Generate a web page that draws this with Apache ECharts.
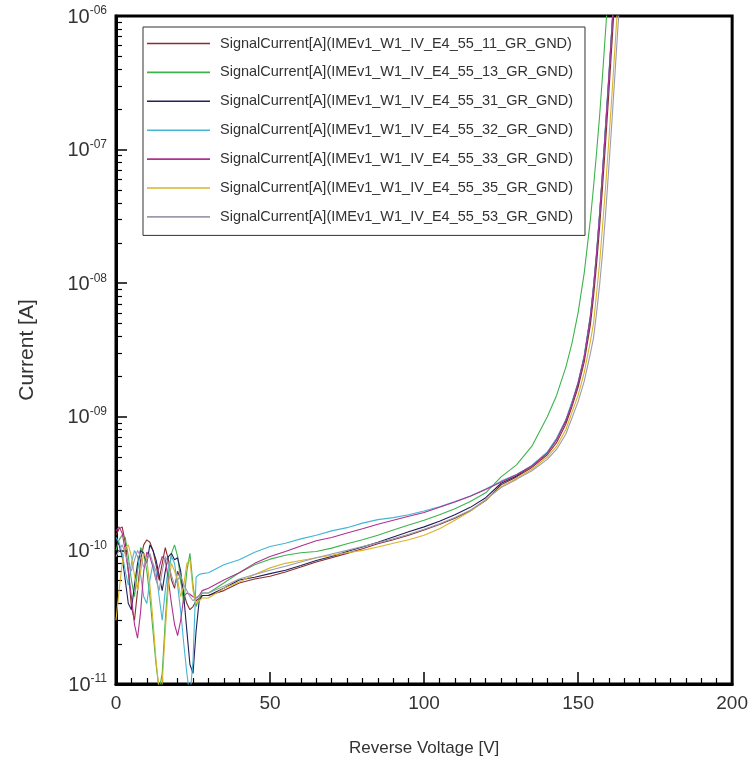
<!DOCTYPE html>
<html><head><meta charset="utf-8">
<script src="https://cdn.jsdelivr.net/npm/echarts@6/dist/echarts.min.js"></script>
<style>html,body{margin:0;padding:0;background:#fff}#c{width:751px;height:769px}</style>
</head><body><div id="c"></div>
<script>
// Reverse voltage grid [V]
const voltage = [
  0,1,2,3,4,5,6,7,8,9,10,11,12,13,14,15,16,17,18,19,20,21,22,23,24,25,26,27,28,
  30,35,40,45,50,55,60,65,70,75,80,85,90,95,100,105,110,115,120,
  125,130,135,140,143,146,148,150,152,154,155,156,157,158,159,160,161,162,163,164,165
];
// Currents in pA
const I_11 = [
  130,145,150,115,70,38,30,50,85,110,120,115,100,78,60,80,105,85,60,52,70,60,48,40,36,38,42,44,46,
  46,50,57,61,64,69,75,82,88,95,103,112,120,130,142,156,174,198,236,
  310,355,418,520,640,880,1190,1660,2580,4900,7900,13900,26600,55000,120000,270000,630000,1.5e6,3.4e6,8e6,1.6e7
];
const I_13 = [
  100,120,130,125,90,60,45,70,105,95,70,45,25,14,9,12,30,65,95,110,90,60,40,70,95,55,38,44,48,
  48,57,68,78,86,92,96,98,104,112,120,130,142,155,168,185,205,232,270,
  355,437,603,1000,1445,2344,3548,6026,12000,30200,52500,95500,182000,380000,832000,1.78e6,4e6,8e6,1.6e7,3e7,6e7
];
const I_31 = [
  120,110,90,60,40,36,55,80,100,95,80,110,100,85,65,50,70,90,95,85,88,70,45,25,14,12,25,42,46,
  46,52,60,63,67,71,77,84,90,98,106,115,126,138,150,165,185,210,248,
  318,360,430,540,680,925,1270,1760,2850,5550,9400,16400,33500,70000,160000,350000,840000,2.0e6,4.5e6,1e7,2e7
];
const I_32 = [
  125,115,95,70,55,80,100,90,65,45,40,60,80,70,45,30,50,75,90,80,55,35,20,12,8,15,63,66,67,
  68,78,85,97,107,113,122,130,140,148,160,170,176,185,197,212,232,255,288,
  330,370,432,545,690,950,1290,1820,2900,5800,9600,17200,34000,73000,165000,370000,860000,2.1e6,4.6e6,1e7,2e7
];
const I_33 = [
  140,150,135,100,70,45,28,22,35,70,97,90,75,60,75,90,85,60,40,28,23,30,45,48,47,45,44,46,50,
  52,60,68,80,90,98,108,118,125,135,145,157,168,180,192,210,230,254,286,
  325,368,428,535,670,940,1250,1800,2780,5700,9200,16900,32500,72000,155000,360000,820000,1.95e6,4.4e6,1e7,2e7
];
const I_35 = [
  30,50,80,105,110,90,65,50,70,95,85,55,30,15,9,10,25,55,80,70,60,45,55,80,85,50,40,42,44,
  44,52,58,66,74,80,84,88,92,96,100,106,113,120,130,145,168,196,238,
  300,345,405,500,600,800,1080,1450,2150,3700,5000,8400,14300,28000,56000,120000,260000,600000,1.4e6,3.3e6,7.5e6
];
const I_53 = [
  90,100,110,95,80,70,85,100,90,75,85,95,80,60,50,70,90,80,65,55,60,65,55,50,45,42,44,46,48,
  48,54,61,66,71,76,82,88,94,100,107,114,122,132,144,158,176,200,240,
  295,340,395,480,570,740,980,1300,1850,3000,3900,6000,9800,17500,35000,75000,165000,380000,880000,2e6,4.6e6
];
const seriesNames = [
  'SignalCurrent[A](IMEv1_W1_IV_E4_55_11_GR_GND)',
  'SignalCurrent[A](IMEv1_W1_IV_E4_55_13_GR_GND)',
  'SignalCurrent[A](IMEv1_W1_IV_E4_55_31_GR_GND)',
  'SignalCurrent[A](IMEv1_W1_IV_E4_55_32_GR_GND)',
  'SignalCurrent[A](IMEv1_W1_IV_E4_55_33_GR_GND)',
  'SignalCurrent[A](IMEv1_W1_IV_E4_55_35_GR_GND)',
  'SignalCurrent[A](IMEv1_W1_IV_E4_55_53_GR_GND)'
];
const seriesColors = ['#8c2d2d','#3cb44b','#20205a','#45b5d5','#b03090','#d8b428','#9b9bb0'];
const seriesData = [I_11, I_13, I_31, I_32, I_33, I_35, I_53];
const xTicks = [0, 50, 100, 150, 200];
const yExpLabels = {'-11':'-11','-10':'-10','-9':'-09','-8':'-08','-7':'-07','-6':'-06'};

const minorLog = [];
for (let n = -11; n < -6; n++) for (let k = 2; k <= 9; k++) minorLog.push(n + Math.log10(k));

const chart = echarts.init(document.getElementById('c'), null, {renderer: 'canvas'});
const series = seriesData.map((arr, i) => ({
  name: seriesNames[i],
  type: 'line',
  symbol: 'none',
  clip: true,
  color: seriesColors[i],
  lineStyle: {width: 1.1, color: seriesColors[i]},
  data: voltage.map((v, j) => [v, arr[j] * 1e-12])
}));

const FF = 'Liberation Sans, Arial, sans-serif';
chart.setOption({
  animation: false,
  backgroundColor: '#fff',
  grid: {left: 116, right: 18, top: 16, bottom: 85, show: true, borderColor: '#000', borderWidth: 3, backgroundColor: 'transparent'},
  legend: {
    orient: 'vertical', left: 143, top: 27,
    padding: [9, 12, 11, 4],
    icon: 'rect',
    itemWidth: 63, itemHeight: 1.6, itemGap: 13.9,
    backgroundColor: '#fff', borderColor: '#333', borderWidth: 1,
    textStyle: {fontFamily: FF, fontSize: 14.5, lineHeight: 15, color: '#333', padding: [0, 0, 0, 5]},
    data: seriesNames
  },
  xAxis: {
    type: 'value', min: xTicks[0], max: xTicks[xTicks.length - 1], interval: 50,
    name: 'Reverse Voltage [V]', nameLocation: 'middle', nameGap: 56,
    nameTextStyle: {fontFamily: FF, fontSize: 17, color: '#333'},
    axisLine: {show: true, lineStyle: {color: '#000', width: 3}},
    axisTick: {show: true, inside: true, length: 12, lineStyle: {color: '#000', width: 1.5}},
    minorTick: {show: true, splitNumber: 10, length: 6, lineStyle: {color: '#000', width: 1.2}},
    axisLabel: {fontFamily: FF, fontSize: 19, color: '#333', margin: 10},
    splitLine: {show: false}
  },
  yAxis: [{
    type: 'log', logBase: 10, min: 1e-11, max: 1e-6,
    name: 'Current [A]', nameLocation: 'middle', nameGap: 78,
    nameTextStyle: {fontFamily: FF, fontSize: 21, color: '#333'},
    axisLine: {show: true, lineStyle: {color: '#000', width: 3}},
    axisTick: {show: true, inside: true, length: 11, lineStyle: {color: '#000', width: 1.5}},
    axisLabel: {
      margin: 9, color: '#333',
      formatter: v => { const e = String(Math.round(Math.log10(v))); return '{b|10}{s|' + (yExpLabels[e] || e) + '}'; },
      rich: {
        b: {fontFamily: FF, fontSize: 20, color: '#333', lineHeight: 22, verticalAlign: 'bottom'},
        s: {fontFamily: FF, fontSize: 12, color: '#333', lineHeight: 22, verticalAlign: 'top', padding: [0, 0, 8, 0]}
      }
    },
    splitLine: {show: false}
  }, {
    type: 'value', min: -11, max: -6, position: 'left',
    axisLine: {show: false},
    axisLabel: {show: false},
    splitLine: {show: false},
    axisTick: {show: true, inside: true, length: 6, customValues: minorLog, lineStyle: {color: '#000', width: 1.2}}
  }],
  series: series
});
</script>
</body></html>
